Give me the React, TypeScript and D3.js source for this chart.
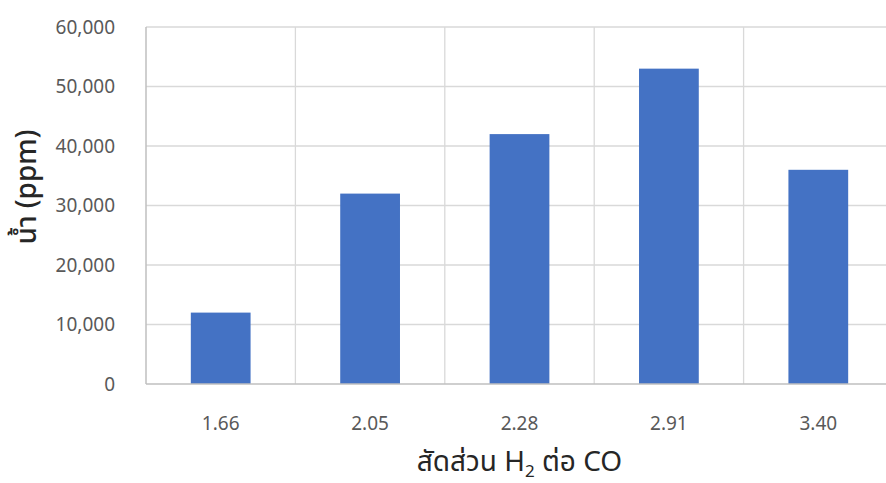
import React from "react";
import * as d3 from "d3";

const categories = ["1.66", "2.05", "2.28", "2.91", "3.40"];
const waterPpm = [12000, 32000, 42000, 53000, 36000];
const yTicks = [0, 10000, 20000, 30000, 40000, 50000, 60000];

const W = 886;
const H = 483;
const plot = { left: 146, right: 893, top: 27, bottom: 384 };
const FONT = "'Noto Sans', 'Noto Sans Thai', 'Leelawadee UI', Tahoma, sans-serif";

export default function App() {
  const x = d3
    .scaleBand<string>()
    .domain(categories)
    .range([plot.left, plot.right])
    .paddingInner(0.6)
    .paddingOuter(0.3);
  const y = d3.scaleLinear().domain([0, 60000]).range([plot.bottom, plot.top]);
  const step = x.step();
  const fmt = d3.format(",");
  const boundaries = categories.map((c) => (x(c) as number) - step * 0.3 + step);

  return (
    <svg
      width={W}
      height={H}
      style={{ position: "absolute", left: 0, top: 0, background: "#fff" }}
      fontFamily={FONT}
    >
      {/* horizontal gridlines */}
      {yTicks.slice(1).map((t) => (
        <line
          key={"h" + t}
          x1={plot.left}
          x2={plot.right}
          y1={y(t)}
          y2={y(t)}
          stroke="#d9d9d9"
          strokeWidth={1.3}
        />
      ))}
      {/* vertical gridlines between categories */}
      {boundaries.map((bx, i) => (
        <line
          key={"v" + i}
          x1={bx}
          x2={bx}
          y1={plot.top}
          y2={plot.bottom}
          stroke="#d9d9d9"
          strokeWidth={1.3}
        />
      ))}
      {/* bars */}
      {categories.map((c, i) => (
        <rect
          key={c}
          x={x(c)}
          width={x.bandwidth()}
          y={y(waterPpm[i])}
          height={plot.bottom - y(waterPpm[i])}
          fill="#4472c4"
        />
      ))}
      {/* axes */}
      <line x1={plot.left} x2={plot.left} y1={plot.top} y2={plot.bottom} stroke="#bfbfbf" strokeWidth={1.5} />
      <line x1={plot.left} x2={plot.right} y1={plot.bottom} y2={plot.bottom} stroke="#bfbfbf" strokeWidth={1.5} />
      {/* y tick labels */}
      {yTicks.map((t) => (
        <text
          key={"yl" + t}
          x={115}
          y={y(t)}
          dy="0.35em"
          textAnchor="end"
          fontSize={19}
          fill="#595959"
        >
          {fmt(t)}
        </text>
      ))}
      {/* x tick labels */}
      {categories.map((c) => (
        <text
          key={"xl" + c}
          x={(x(c) as number) + x.bandwidth() / 2}
          y={423}
          dy="0.35em"
          textAnchor="middle"
          fontSize={19}
          fill="#595959"
        >
          {c}
        </text>
      ))}
      {/* axis titles */}
      <text
        transform={`translate(36, 187) rotate(-90)`}
        textAnchor="middle"
        fontSize={28}
        fontWeight={500}
        fill="#262626"
      >
        น้ำ (ppm)
      </text>
      <text x={(plot.left + plot.right) / 2} y={471} textAnchor="middle" fontSize={28} fill="#262626">
        สัดส่วน H
        <tspan fontSize={17} dy={6}>2</tspan>
        <tspan dy={-6}> ต่อ CO</tspan>
      </text>
    </svg>
  );
}
